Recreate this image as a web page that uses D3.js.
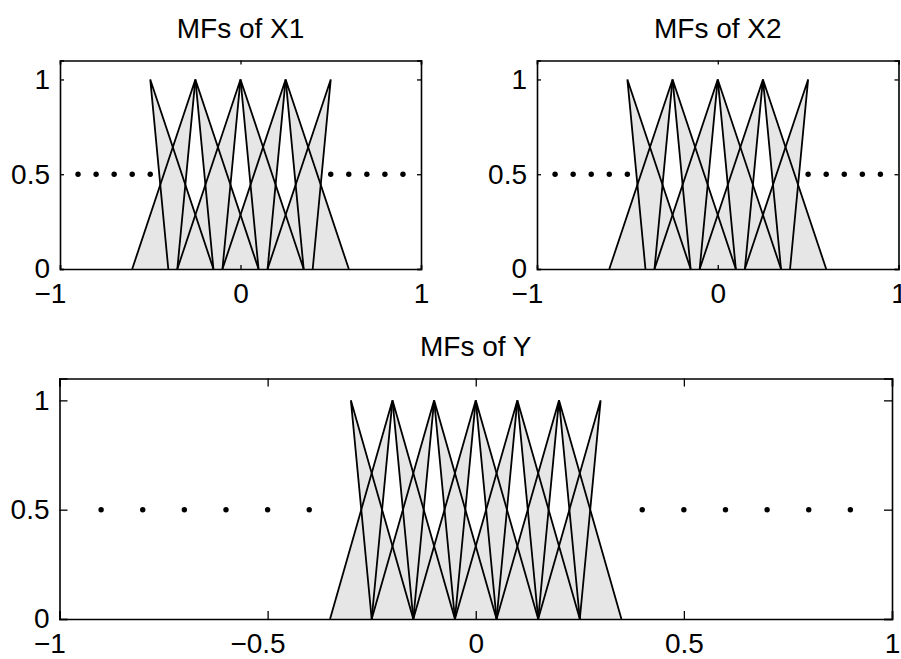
<!DOCTYPE html>
<html>
<head>
<meta charset="utf-8">
<script src="https://cdn.jsdelivr.net/npm/d3@7"></script>
<style>
  body { margin: 0; background: #fff; }
  svg { display: block; font-family: "Liberation Sans", Arial, Helvetica, sans-serif; }
</style>
</head>
<body>
<div id="chart"></div>
<script>
// Membership functions (interval type-2 triangles): peak, lower and upper feet
const x1Peaks      = [-0.5, -0.25, 0, 0.25, 0.5];
const x1UpperLeft  = [null, -0.6, -0.35, -0.1, 0.15];
const x1LowerLeft  = [null, -0.35, -0.1, 0.15, 0.4];
const x1LowerRight = [-0.4, -0.15, 0.1, 0.35, null];
const x1UpperRight = [-0.15, 0.1, 0.35, 0.6, null];

const x2Peaks      = [-0.5, -0.25, 0, 0.25, 0.5];
const x2UpperLeft  = [null, -0.6, -0.35, -0.1, 0.15];
const x2LowerLeft  = [null, -0.35, -0.1, 0.15, 0.4];
const x2LowerRight = [-0.4, -0.15, 0.1, 0.35, null];
const x2UpperRight = [-0.15, 0.1, 0.35, 0.6, null];

const yPeaks      = [-0.3, -0.2, -0.1, 0, 0.1, 0.2, 0.3];
const yUpperLeft  = [null, -0.35, -0.25, -0.15, -0.05, 0.05, 0.15];
const yLowerLeft  = [null, -0.25, -0.15, -0.05, 0.05, 0.15, 0.25];
const yLowerRight = [-0.25, -0.15, -0.05, 0.05, 0.15, 0.25, null];
const yUpperRight = [-0.15, -0.05, 0.05, 0.15, 0.25, 0.35, null];

// dotted markers at 0.5
const x1Dots = [-0.9, -0.8, -0.7, -0.6, -0.5, 0.5, 0.6, 0.7, 0.8, 0.9];
const x2Dots = [-0.9, -0.8, -0.7, -0.6, -0.5, 0.5, 0.6, 0.7, 0.8, 0.9];
const yDots  = [-0.9, -0.8, -0.7, -0.6, -0.5, -0.4, 0.4, 0.5, 0.6, 0.7, 0.8, 0.9];
const dotLevel = 0.5;

const topXTicks = [-1, 0, 1];
const botXTicks = [-1, -0.5, 0, 0.5, 1];
const yTicks = [0, 0.5, 1];

const W = 901, H = 659;
const FS = 28;
const svg = d3.select('#chart').append('svg')
  .attr('width', W).attr('height', H);

function fmt(v) {
  return d3.format('')(v).replace('-', '\u2212');
}

function drawPanel(opts) {
  const { left, top, width, height, title, peaks, ul, ll, lr, ur, dots, xTicks, tickLen } = opts;
  const x = d3.scaleLinear().domain([-1, 1]).range([left, left + width]);
  const y = d3.scaleLinear().domain([0, 1.1]).range([top + height, top]);
  const g = svg.append('g');

  // FOU triangles
  const tris = [];
  peaks.forEach((p, i) => {
    if (ul[i] !== null) tris.push([[ul[i], 0], [p, 1], [ll[i], 0]]);
    if (ur[i] !== null) tris.push([[lr[i], 0], [p, 1], [ur[i], 0]]);
  });
  const line = d3.line().x(d => x(d[0])).y(d => y(d[1]));

  g.selectAll('path.fill').data(tris).enter().append('path')
    .attr('class', 'fill')
    .attr('d', d => line(d) + 'Z')
    .attr('fill', '#e6e6e6')
    .attr('stroke', 'none');

  g.selectAll('path.edge').data(tris).enter().append('path')
    .attr('class', 'edge')
    .attr('d', d => line(d))
    .attr('fill', 'none')
    .attr('stroke', '#000')
    .attr('stroke-width', 1.8)
    .attr('stroke-linejoin', 'miter');

  g.selectAll('circle').data(dots).enter().append('circle')
    .attr('cx', d => x(d))
    .attr('cy', y(dotLevel))
    .attr('r', 2.7)
    .attr('fill', '#000');

  // axes box with inward ticks
  const xb = g.append('g').attr('transform', `translate(0,${top + height})`)
    .call(d3.axisBottom(x).tickValues(xTicks).tickSize(-tickLen).tickPadding(14).tickFormat(fmt));
  xb.selectAll('.tick text').filter(d => d < 0).attr('dx', '-0.36em');
  g.append('g').attr('transform', `translate(0,${top})`)
    .call(d3.axisTop(x).tickValues(xTicks).tickSize(-tickLen).tickFormat(''));
  g.append('g').attr('transform', `translate(${left},0)`)
    .call(d3.axisLeft(y).tickValues(yTicks).tickSize(-tickLen).tickPadding(10).tickFormat(fmt));
  g.append('g').attr('transform', `translate(${left + width},0)`)
    .call(d3.axisRight(y).tickValues(yTicks).tickSize(-tickLen).tickFormat(''));

  g.selectAll('.domain').attr('stroke', '#000').attr('stroke-width', 1.6);
  g.selectAll('.tick line').attr('stroke', '#000').attr('stroke-width', 1.3);
  g.selectAll('.tick text').attr('font-size', FS).attr('fill', '#000')
    .attr('font-family', '"Liberation Sans", Arial, sans-serif');

  g.append('text')
    .attr('x', left + width / 2)
    .attr('y', top - 23)
    .attr('text-anchor', 'middle')
    .attr('font-size', FS)
    .attr('fill', '#000')
    .text(title);
}

drawPanel({ left: 60, top: 60.5, width: 361, height: 208.5, title: 'MFs of X1',
  peaks: x1Peaks, ul: x1UpperLeft, ll: x1LowerLeft, lr: x1LowerRight, ur: x1UpperRight,
  dots: x1Dots, xTicks: topXTicks, tickLen: 4 });
drawPanel({ left: 537, top: 60.5, width: 361.5, height: 208.5, title: 'MFs of X2',
  peaks: x2Peaks, ul: x2UpperLeft, ll: x2LowerLeft, lr: x2LowerRight, ur: x2UpperRight,
  dots: x2Dots, xTicks: topXTicks, tickLen: 4 });
drawPanel({ left: 59.5, top: 378.5, width: 832.5, height: 240.5, title: 'MFs of Y',
  peaks: yPeaks, ul: yUpperLeft, ll: yLowerLeft, lr: yLowerRight, ur: yUpperRight,
  dots: yDots, xTicks: botXTicks, tickLen: 8 });
</script>
</body>
</html>
